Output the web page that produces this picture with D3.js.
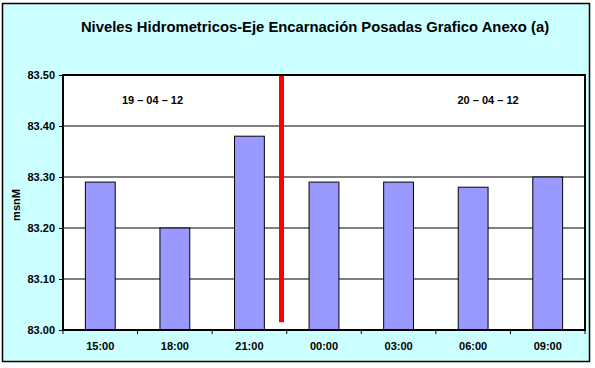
<!DOCTYPE html>
<html><head><meta charset="utf-8">
<script src="https://cdn.jsdelivr.net/npm/d3@7"></script>
<style>body{margin:0;background:#fff}svg{display:block}</style>
</head><body>
<script>
const categories = ["15:00","18:00","21:00","00:00","03:00","06:00","09:00"];
const values = [83.29, 83.20, 83.38, 83.29, 83.29, 83.28, 83.30];
const yTicks = [83.00, 83.10, 83.20, 83.30, 83.40, 83.50];
const dateLabels = ["19 – 04 – 12", "20 – 04 – 12"];
const dateLabelPos = [1.2, 5.7];   // in category units
const separatorPos = 2.93;         // in category units
const separatorBottom = 83.015;
const title = "Niveles Hidrometricos-Eje Encarnación Posadas Grafico Anexo (a)";

const W = 595, H = 368;
const svg = d3.select("body").append("svg").attr("width", W).attr("height", H);
svg.append("rect").attr("x",2.5).attr("y",3.5).attr("width",587).attr("height",358)
  .attr("fill","#CCFFFF").attr("stroke","#000").attr("stroke-width",1.5);

const L = 63, R = 585, T = 75, B = 330;
const x = d3.scaleBand().domain(categories).range([L,R]).paddingInner(0.6).paddingOuter(0.3);
const xc = d3.scaleLinear().domain([0,categories.length]).range([L,R]);
const y = d3.scaleLinear().domain([83.0,83.5]).range([B,T]);

svg.append("rect").attr("x",L).attr("y",T).attr("width",R-L).attr("height",B-T).attr("fill","#fff");

// gridlines
svg.append("g").selectAll("line").data(yTicks.slice(1,-1)).join("line")
  .attr("x1",L).attr("x2",R).attr("y1",d=>y(d)).attr("y2",d=>y(d))
  .attr("stroke","#000").attr("stroke-width",1);

// bars
svg.append("g").selectAll("rect").data(values).join("rect")
  .attr("x",(d,i)=>x(categories[i])).attr("width",x.bandwidth())
  .attr("y",d=>y(d)).attr("height",d=>B-y(d))
  .attr("fill","#9999FF").attr("stroke","#000").attr("stroke-width",1);

// separator
svg.append("line").attr("x1",xc(separatorPos)).attr("x2",xc(separatorPos))
  .attr("y1",y(83.5)).attr("y2",y(separatorBottom))
  .attr("stroke","#FF0000").attr("stroke-width",5);

// plot border
svg.append("rect").attr("x",L).attr("y",T).attr("width",R-L).attr("height",B-T)
  .attr("fill","none").attr("stroke","#000").attr("stroke-width",2);

// y axis
const yAxis = svg.append("g").attr("transform",`translate(${L},0)`)
  .call(d3.axisLeft(y).tickValues(yTicks).tickFormat(d3.format(".2f")).tickSize(4).tickPadding(4));
yAxis.select(".domain").remove();
yAxis.selectAll("line").attr("stroke","#000");
yAxis.selectAll("text").attr("font-family","Arial, 'Liberation Sans', sans-serif")
  .attr("font-size",11).attr("font-weight","bold").attr("fill","#000");

// x axis
const xAxis = svg.append("g").attr("transform",`translate(0,${B})`)
  .call(d3.axisBottom(x).tickSize(0).tickPadding(12));
xAxis.select(".domain").remove();
xAxis.selectAll("text").attr("font-family","Arial, 'Liberation Sans', sans-serif")
  .attr("font-size",11).attr("font-weight","bold").attr("fill","#000");
svg.append("g").selectAll("line").data(d3.range(categories.length+1)).join("line")
  .attr("x1",d=>xc(d)).attr("x2",d=>xc(d)).attr("y1",B).attr("y2",B+4)
  .attr("stroke","#000");

// title
svg.append("text").attr("x",315).attr("y",32).attr("text-anchor","middle")
  .attr("font-family","Arial, 'Liberation Sans', sans-serif").attr("font-size",14.8)
  .attr("font-weight","bold").attr("fill","#000").text(title);

// y label
svg.append("text").attr("transform","translate(20,205) rotate(-90)").attr("text-anchor","middle")
  .attr("font-family","Arial, 'Liberation Sans', sans-serif").attr("font-size",11)
  .attr("font-weight","bold").attr("fill","#000").text("msnM");

// date labels
svg.append("g").selectAll("text").data(dateLabels).join("text")
  .attr("x",(d,i)=>xc(dateLabelPos[i])).attr("y",104).attr("text-anchor","middle")
  .attr("font-family","Arial, 'Liberation Sans', sans-serif").attr("font-size",11)
  .attr("font-weight","bold").attr("fill","#000").text(d=>d);
</script>
</body></html>
